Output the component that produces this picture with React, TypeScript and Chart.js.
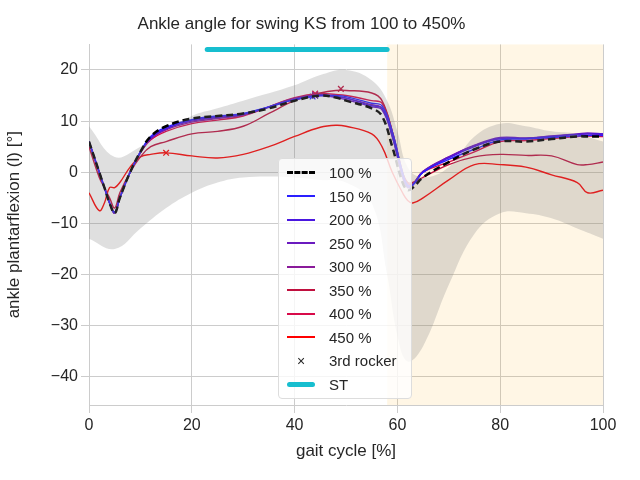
import React, { useEffect, useRef } from "react";
import { Chart, registerables } from "chart.js";
Chart.register(...registerables);

const xs = [0, 2, 3, 4, 5, 6, 8, 10, 12, 15, 20, 25, 30, 35, 40, 45, 48, 50, 55, 57, 59, 61, 62, 63, 65, 70, 75, 80, 85, 90, 95, 97, 100];
const s100 = [6, 0, -3, -6, -8, -5, 0, 4, 7, 9, 10.5, 11, 11.5, 12.5, 14, 15, 14.6, 14, 12.5, 11, 5, -2, -3.5, -3, -1, 2, 4.5, 6, 6, 6.5, 7, 7, 7];
const s150 = [6, 0, -3, -6, -7.8, -5, 0, 4, 7, 8.8, 10.3, 11, 11.5, 12.8, 14.2, 15, 15, 14.8, 13.5, 13, 8, 0, -2.5, -2.5, 0, 2.5, 4.5, 6.3, 6.5, 6.8, 7.1, 7.2, 7.2];
const s200 = [6, 0, -3, -6, -7.8, -5, 0, 4, 6.8, 8.6, 10.2, 10.8, 11.4, 12.8, 14.2, 15, 14.8, 14.5, 13, 12.5, 7, -0.5, -2.8, -2.5, 0, 2.8, 5, 6.6, 6.6, 7, 7.4, 7.5, 7.5];
const s250 = [6, 0, -3, -6, -8, -5, 0, 4, 6.6, 8.5, 10, 10.7, 11.3, 12.7, 14.3, 15, 14.6, 14.2, 12.8, 12.2, 7, -1, -3, -2.5, 0.2, 3, 5.3, 6.8, 6.7, 7.1, 7.5, 7.7, 7.5];
const s300 = [6, 0, -3, -6, -8, -5, 0, 3.8, 6.5, 8.3, 9.8, 10.5, 11.2, 12.8, 14.5, 15.2, 14.8, 14.5, 13.2, 12.6, 7.5, -0.5, -2.7, -2.3, 0.2, 3, 5.2, 6.6, 6.6, 7, 7.4, 7.5, 7.4];
const s350 = [5, -1, -3, -5, -7, -4, 0, 3, 5, 6, 7.5, 8, 9, 11.5, 14, 15.5, 16, 16, 15.5, 14, 8, 0, -2, -2, -1, 1.5, 3, 3.5, 3.3, 3.2, 1.5, 1.5, 2];
const s400 = [6, 0, -3, -6, -7.8, -5, 0, 3.8, 6.3, 8, 9.5, 10.2, 11, 12.8, 14.6, 15.4, 15.2, 15, 14, 13.5, 8, 0, -2.2, -2.2, 0, 2, 4, 6, 6.2, 6.6, 7, 7.1, 7];
const s450 = [-4, -7.5, -6, -3, -3, -2, 1, 3, 3.5, 3.8, 3.2, 2.8, 3.5, 5, 7, 8.8, 9.2, 9, 7.5, 5, 0, -4, -5.5, -6, -5, -1.5, 1.5, 1.5, 1, -0.5, -2, -4, -3.5];
const bandX = [0, 5, 10, 15, 20, 25, 30, 40, 45, 50, 55, 58, 60, 62, 65, 70, 75, 80, 85, 90, 95, 100];
const bandHi = [9, 3, 5, 8, 11, 12.5, 14, 17, 19, 20, 18, 14, 8, 1, -1, 1, 7, 9.5, 9, 8, 7.5, 6];
const bandLo = [-13, -15, -11, -7, -4, -2, -1, -1, -1.5, -2, -6, -20, -32, -37, -34, -22, -12, -8, -8, -9, -11, -13];
const rockerX = [44, 43.5, 44, 44, 44, 49, 44, 15];
const rockerY = [15, 14.8, 15.2, 15, 15.2, 16.3, 15.4, 3.8];
const stStart = 23, stEnd = 58, stY = 24;
const swingStart = 58;
const labels = ["100 %", "150 %", "200 %", "250 %", "300 %", "350 %", "400 %", "450 %"];
const colors = ["#000000", "#2a1fff", "#4a17e0", "#6a1abf", "#8a1a9a", "#c0103f", "#d80a4a", "#ff0000"];
const series = [s100, s150, s200, s250, s300, s350, s400, s450];

const FONT = "'Liberation Sans', Arial, sans-serif";

export default function App() {
  const ref = useRef<HTMLCanvasElement>(null);
  useEffect(() => {
    document.body.style.margin = "0";
    const pts = (x: number[], y: number[]) => x.map((v, i) => ({ x: v, y: y[i] }));
    const shade = {
      id: "shade",
      beforeDatasetsDraw(c: any) {
        const { ctx, chartArea, scales } = c;
        const x0 = scales.x.getPixelForValue(swingStart);
        ctx.save();
        ctx.fillStyle = "rgba(255,165,0,0.1)";
        ctx.fillRect(x0, chartArea.top, chartArea.right - x0, chartArea.bottom - chartArea.top);
        ctx.restore();
      },
    };
    const ds: any[] = [
      { data: pts(bandX, bandHi), borderWidth: 0, pointRadius: 0, tension: 0.4, fill: false },
      { data: pts(bandX, bandLo), borderWidth: 0, pointRadius: 0, tension: 0.4, fill: "-1", backgroundColor: "rgba(128,128,128,0.25)" },
    ];
    series.forEach((s, i) => {
      ds.push({
        data: pts(xs, s), borderColor: colors[i], borderWidth: i === 0 ? 2.5 : 1.4,
        borderDash: i === 0 ? [7, 4] : [], pointRadius: 0, tension: 0.4, fill: false,
      });
    });
    ds.push({ data: pts(rockerX, rockerY), showLine: false, pointStyle: "crossRot", pointRadius: 4, borderColor: colors, borderWidth: 1.3 });
    ds.push({ data: [{ x: stStart, y: stY }, { x: stEnd, y: stY }], borderColor: "#17becf", borderWidth: 5, borderCapStyle: "round", pointRadius: 0 });
    const chart = new Chart(ref.current!, {
      type: "line",
      data: { datasets: ds },
      plugins: [shade],
      options: {
        animation: false, responsive: false,
        layout: { padding: { right: 37, top: 0 } },
        plugins: {
          legend: { display: false }, tooltip: { enabled: false },
          title: { display: true, text: "Ankle angle for swing KS from 100 to 450%", color: "#262626", font: { family: FONT, size: 17, weight: "normal" }, padding: { top: 14, bottom: 10 } },
        },
        scales: {
          x: {
            type: "linear", min: 0, max: 100,
            ticks: { stepSize: 20, color: "#262626", font: { family: FONT, size: 16 }, maxRotation: 0 },
            grid: { color: "#cccccc" }, border: { color: "#cccccc" },
            title: { display: true, text: "gait cycle [%]", color: "#262626", font: { family: FONT, size: 17 }, padding: { top: 4, bottom: 18 } },
            afterFit: (a: any) => { a.height = 75; },
          },
          y: {
            min: -45.5, max: 25,
            afterBuildTicks: (a: any) => { a.ticks = [-40, -30, -20, -10, 0, 10, 20].map((v) => ({ value: v })); },
            ticks: { color: "#262626", font: { family: FONT, size: 16 }, callback: (v: any) => String(v).replace("-", "\u2212") },
            grid: { color: "#cccccc" }, border: { color: "#cccccc" },
            title: { display: true, text: "ankle plantarflexion (l) [°]", color: "#262626", font: { family: FONT, size: 17 }, padding: { top: 4, bottom: 2 } },
            afterFit: (a: any) => { a.width = 89; },
          },
        },
      },
    });
    return () => chart.destroy();
  }, []);
  const item = (i: number) => (
    <div key={i} style={{ display: "flex", alignItems: "center", height: 23.5 }}>
      <div style={{ width: 28, marginRight: 14, borderTop: i === 0 ? "3px dashed #000" : `2px solid ${colors[i]}` }} />
      <span>{labels[i]}</span>
    </div>
  );
  return (
    <div style={{ position: "relative", width: 640, height: 480 }}>
      <canvas ref={ref} width={640} height={480} style={{ display: "block" }} />
      <div style={{ position: "absolute", left: 278, top: 158, width: 124, padding: "2px 0 2px 8px", background: "rgba(255,255,255,0.8)", border: "1px solid #ddd", borderRadius: 4, font: `15px ${FONT}`, color: "#262626" }}>
        {labels.map((_, i) => item(i))}
        <div style={{ display: "flex", alignItems: "center", height: 23.5 }}>
          <div style={{ width: 28, marginRight: 14, textAlign: "center", fontSize: 14 }}>×</div><span>3rd rocker</span>
        </div>
        <div style={{ display: "flex", alignItems: "center", height: 23.5 }}>
          <div style={{ width: 28, marginRight: 14, borderTop: "5px solid #17becf", borderRadius: 3 }} /><span>ST</span>
        </div>
      </div>
    </div>
  );
}
